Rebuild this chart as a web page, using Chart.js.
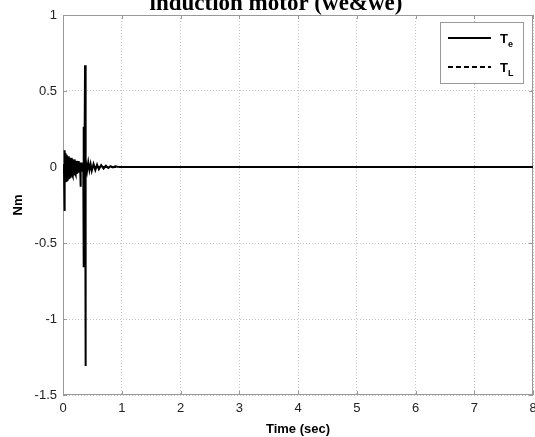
<!DOCTYPE html>
<html>
<head>
<meta charset="utf-8">
<script src="https://cdn.jsdelivr.net/npm/chart.js@4.4.0/dist/chart.umd.min.js"></script>
<style>
  body { margin: 0; background: #fff; }
</style>
</head>
<body>
<canvas id="mycanvas" width="535" height="437"></canvas>
<script>
// time (sec) and electromagnetic torque Te (Nm)
var timeTe = [0, 0.010, 0.018, 0.024, 0.028, 0.032, 0.036, 0.040, 0.045, 0.050, 0.055, 0.060, 0.065, 0.070, 0.075, 0.080,
	0.085, 0.090, 0.095, 0.100, 0.105, 0.110, 0.115, 0.120, 0.125, 0.130, 0.135, 0.140, 0.145, 0.150, 0.155, 0.160,
	0.165, 0.170, 0.175, 0.180, 0.185, 0.190, 0.195, 0.200, 0.205, 0.210, 0.215, 0.220, 0.225, 0.230, 0.235, 0.240,
	0.245, 0.250, 0.255, 0.260, 0.265, 0.270, 0.275, 0.280, 0.285, 0.290, 0.295, 0.300, 0.303, 0.306, 0.310, 0.315,
	0.320, 0.325, 0.330, 0.335, 0.340, 0.345, 0.350, 0.355, 0.358, 0.362, 0.368, 0.375, 0.382, 0.386, 0.388, 0.395,
	0.41, 0.43, 0.45, 0.47, 0.49, 0.52, 0.55, 0.58, 0.61, 0.65, 0.69, 0.73, 0.77, 0.81, 0.85, 0.89, 0.93, 1.0, 8];
var te = [0, 0.02, -0.04, 0.10, -0.29, 0.11, -0.08, 0.09, -0.10, 0.08, -0.09, 0.08, -0.08, 0.07, -0.09, 0.07,
	-0.08, 0.06, -0.08, 0.07, -0.07, 0.06, -0.07, 0.06, -0.06, 0.06, -0.07, 0.05, -0.06, 0.06, -0.05, 0.05,
	-0.06, 0.05, -0.05, 0.05, -0.05, 0.04, -0.05, 0.05, -0.04, 0.04, -0.05, 0.04, -0.04, 0.04, -0.04, 0.04,
	-0.03, 0.04, -0.04, 0.03, -0.03, 0.04, -0.03, 0.03, -0.03, 0.03, -0.03, 0.02, -0.13, 0.02, -0.02, 0.03,
	-0.02, 0.02, -0.03, 0.02, -0.02, 0.02, 0.265, -0.66, 0.02, -0.01, 0.02, 0.67, -1.31, 0.01, -0.02, 0.02,
	-0.025, 0.03, -0.02, 0.02, -0.025, 0.02, -0.02, 0.015, -0.015, 0.012, -0.01, 0.008, -0.006, 0.005, -0.003, 0.004, 0.002, 0, 0];

// load torque TL (Nm)
var timeTL = [0, 8];
var tl = [0, 0];

var xTicks = [0, 1, 2, 3, 4, 5, 6, 7, 8];
var yTicks = [-1.5, -1, -0.5, 0, 0.5, 1];

var pointsTe = [];
for (var i in timeTe) {
	pointsTe.push({x: timeTe[i], y: te[i]});
}
var pointsTL = [];
for (var j in timeTL) {
	pointsTL.push({x: timeTL[j], y: tl[j]});
}

// box, inward ticks, title and legend like the matlab figure
var figurePlugin = {
	id: 'figure',
	beforeDatasetsDraw: function(chart) {
		var ctx = chart.ctx, a = chart.chartArea;
		var xs = chart.scales.x, ys = chart.scales.y;
		ctx.save();
		ctx.strokeStyle = '#999';
		ctx.lineWidth = 1;
		ctx.strokeRect(a.left + 0.5, a.top + 0.5, a.right - a.left - 1, a.bottom - a.top - 1);
		ctx.beginPath();
		xTicks.forEach(function(v) {
			var px = Math.round(xs.getPixelForValue(v)) + 0.5;
			ctx.moveTo(px, a.bottom); ctx.lineTo(px, a.bottom - 4);
			ctx.moveTo(px, a.top); ctx.lineTo(px, a.top + 4);
		});
		yTicks.forEach(function(v) {
			var py = Math.round(ys.getPixelForValue(v)) + 0.5;
			ctx.moveTo(a.left, py); ctx.lineTo(a.left + 4, py);
			ctx.moveTo(a.right, py); ctx.lineTo(a.right - 4, py);
		});
		ctx.stroke();
		ctx.restore();
	},
	afterDraw: function(chart) {
		var ctx = chart.ctx;
		ctx.save();
		ctx.fillStyle = '#000';
		ctx.font = 'bold 23px "Liberation Serif"';
		ctx.textAlign = 'center';
		ctx.textBaseline = 'alphabetic';
		ctx.fillText('induction motor (we&we)', 276, 10);

		// legend
		ctx.fillStyle = '#fff';
		ctx.fillRect(440, 22, 83, 61);
		ctx.strokeStyle = '#999';
		ctx.lineWidth = 1;
		ctx.strokeRect(440.5, 22.5, 83, 61);
		ctx.strokeStyle = '#000';
		ctx.lineWidth = 2;
		ctx.beginPath();
		ctx.moveTo(448, 38); ctx.lineTo(491, 38);
		ctx.stroke();
		ctx.setLineDash([5, 3]);
		ctx.beginPath();
		ctx.moveTo(448, 67); ctx.lineTo(491, 67);
		ctx.stroke();
		ctx.setLineDash([]);
		ctx.fillStyle = '#000';
		ctx.textAlign = 'left';
		ctx.font = 'bold 13px "Liberation Sans"';
		ctx.fillText('T', 500, 43);
		ctx.fillText('T', 500, 72);
		ctx.font = 'bold 9px "Liberation Sans"';
		ctx.fillText('e', 508, 47);
		ctx.fillText('L', 508, 76);
		ctx.restore();
	}
};

var ctx = document.getElementById('mycanvas');

var LineGraph = new Chart(ctx, {
	type: 'line',
	data: {
		datasets: [
			{
				label: 'Te',
				data: pointsTe,
				borderColor: '#000',
				borderWidth: 2,
				pointRadius: 0,
				tension: 0,
				fill: false
			},
			{
				label: 'TL',
				data: pointsTL,
				borderColor: '#000',
				borderWidth: 2,
				borderDash: [5, 3],
				pointRadius: 0,
				tension: 0,
				fill: false
			}
		]
	},
	options: {
		responsive: false,
		animation: false,
		devicePixelRatio: 1,
		layout: { padding: { left: 0, right: 2, top: 15, bottom: 0 } },
		plugins: {
			legend: { display: false },
			tooltip: { enabled: false }
		},
		scales: {
			x: {
				type: 'linear',
				min: 0,
				max: 8,
				afterFit: function(scale) {
					scale.height = 42;
					scale.paddingLeft = 0;
					scale.paddingRight = 0;
				},
				afterBuildTicks: function(scale) {
					scale.ticks = xTicks.map(function(v) { return {value: v}; });
				},
				ticks: {
					padding: 6,
					color: '#222',
					font: { family: 'Liberation Sans', size: 13 },
					maxRotation: 0,
					callback: function(v) { return String(v); }
				},
				grid: { color: '#c4c4c4', drawTicks: false },
				border: { display: false, dash: [1, 2] },
				title: {
					display: true,
					text: 'Time (sec)',
					color: '#000',
					font: { family: 'Liberation Sans', size: 13, weight: 'bold' },
					padding: { top: 0, bottom: 0 }
				}
			},
			y: {
				type: 'linear',
				min: -1.5,
				max: 1,
				afterFit: function(scale) {
					scale.width = 63;
					scale.paddingTop = 0;
					scale.paddingBottom = 0;
				},
				afterBuildTicks: function(scale) {
					scale.ticks = yTicks.map(function(v) { return {value: v}; });
				},
				ticks: {
					padding: 6,
					color: '#222',
					font: { family: 'Liberation Sans', size: 13 },
					callback: function(v) { return String(v); }
				},
				grid: { color: '#c4c4c4', drawTicks: false },
				border: { display: false, dash: [1, 2] },
				title: {
					display: true,
					text: 'Nm',
					color: '#000',
					font: { family: 'Liberation Sans', size: 13, weight: 'bold' },
					padding: { top: 11, bottom: 0 }
				}
			}
		}
	},
	plugins: [figurePlugin]
});
</script>
</body>
</html>
